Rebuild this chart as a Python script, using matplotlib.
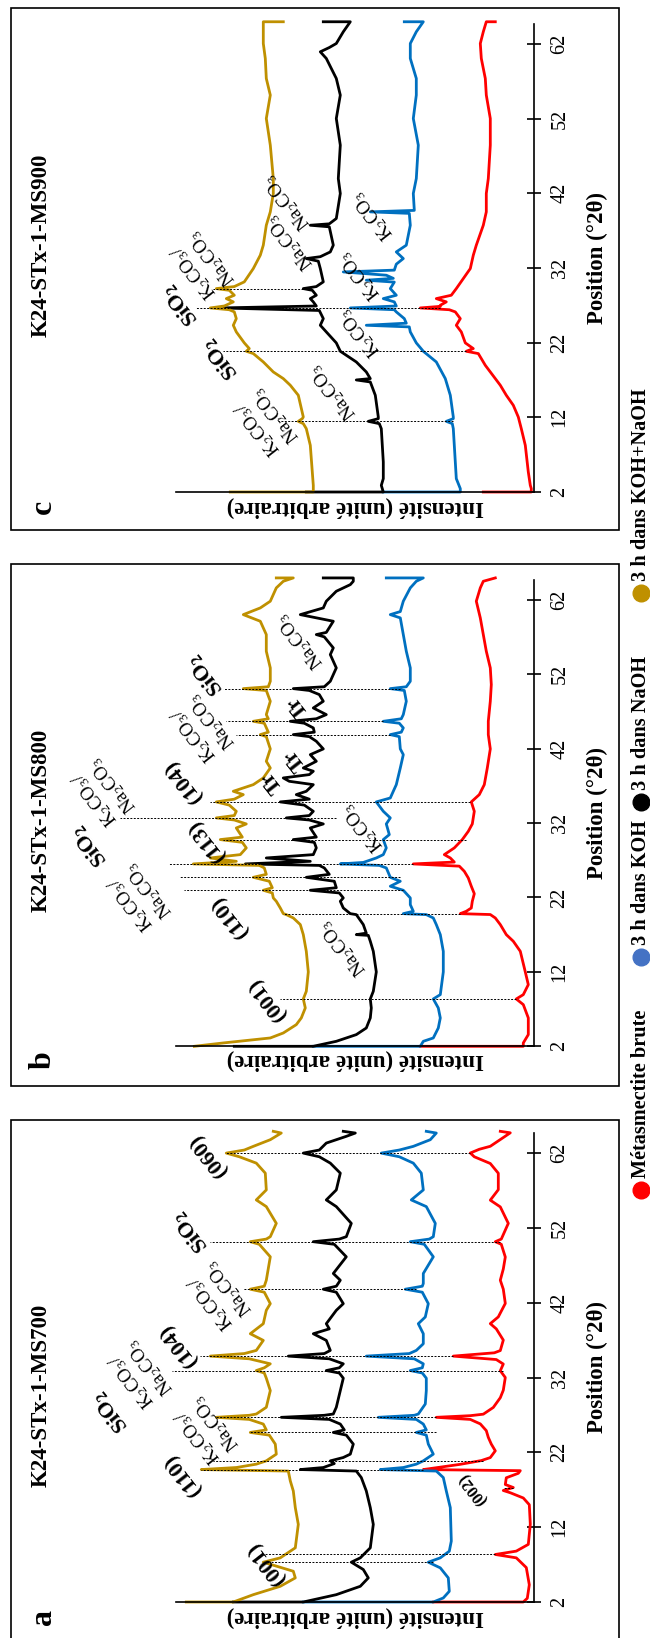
import matplotlib
matplotlib.use('Agg')
import matplotlib.pyplot as plt
from matplotlib.lines import Line2D
from matplotlib.patches import Rectangle

plt.rcParams['font.family'] = ['Liberation Serif', 'DejaVu Serif']
plt.rcParams['mathtext.fontset'] = 'stix'

# series, legend and axis ticks
series_names = ['Métasmectite brute', '3 h dans KOH', '3 h dans NaOH', '3 h dans KOH+NaOH']
curve_colors = ['#FF0000', '#0070C0', '#000000', '#BF9000']
legend_colors = ['#FF0000', '#4472C4', '#000000', '#BF9000']
ticks_2t = [2, 12, 22, 32, 42, 52, 62]

# patterns: (position 2theta, intensity in arbitrary units, offsets included)
# --- a : MS700 ---
a_red = [(2.0, 101), (2.0, 11), (2.5, 7), (4.3, 5), (6.6, 8), (7.9, 18), (8.35, 39), (8.8, 18), (9.7, 6),
         (12.4, 4), (15.0, 5), (15.9, 11), (16.6, 24), (16.9, 31), (17.3, 21), (17.7, 29), (18.6, 28),
         (19.2, 16), (19.55, 14), (19.7, 111), (20.0, 95), (20.4, 74), (20.9, 53), (21.3, 44), (22.2, 39),
         (23.1, 43), (24.0, 46), (24.9, 48), (25.8, 54), (26.4, 64), (26.68, 98), (26.9, 64), (27.1, 51),
         (28.0, 41), (29.3, 34), (30.3, 31), (32.0, 29), (32.9, 34), (33.8, 31), (34.4, 38), (34.86, 81),
         (35.3, 40), (35.6, 34), (37.0, 31), (38.5, 38), (39.2, 44), (40.1, 36), (41.9, 29), (43.8, 31),
         (45.0, 34), (46.5, 31), (48.1, 29), (49.8, 33), (50.15, 39), (50.5, 33), (52.6, 26), (54.8, 34),
         (55.7, 44), (57.1, 36), (59.3, 36), (60.6, 44), (61.5, 60), (62.0, 64), (62.5, 55), (62.9, 44),
         (63.8, 34), (64.7, 24), (64.9, 34)]
a_blue = [(2.0, 231), (2.0, 101), (2.54, 91), (3.43, 85), (5.22, 86), (6.56, 94), (7.32, 106), (7.9, 94),
          (8.79, 85), (10.14, 83), (14.61, 84), (16.84, 88), (18.63, 91), (19.5, 98), (19.7, 154),
          (19.97, 131), (20.42, 118), (20.86, 111), (21.76, 101), (23.1, 106), (24.3, 108), (24.66, 118),
          (25.0, 108), (25.78, 111), (26.4, 118), (26.68, 156), (26.95, 120), (27.12, 116), (28.46, 109),
          (30.25, 108), (31.91, 108), (32.6, 112), (32.93, 124), (33.3, 112), (33.83, 111), (34.5, 120),
          (34.86, 168), (35.2, 125), (35.62, 118), (36.51, 111), (37.85, 111), (39.19, 116), (40.09, 109),
          (41.87, 106), (43.4, 112), (43.8, 129), (44.2, 112), (44.56, 111), (45.9, 111), (48.13, 101),
          (49.8, 110), (50.15, 124), (50.5, 105), (50.82, 101), (52.6, 99), (54.84, 108), (55.73, 123),
          (57.07, 111), (59.31, 113), (60.65, 121), (61.5, 135), (61.99, 153), (62.4, 135), (62.89, 121),
          (63.78, 104), (64.67, 98), (64.9, 108)]
a_black = [(2.0, 301), (2.0, 231), (2.98, 198), (4.10, 174), (5.22, 166), (6.34, 171), (7.32, 183), (7.9, 174),
           (9.24, 164), (12.37, 161), (14.61, 164), (16.84, 168), (18.63, 173), (19.5, 178), (19.7, 234),
           (19.97, 211), (20.5, 200), (20.86, 204), (21.31, 191), (21.76, 184), (23.1, 181), (24.3, 188),
           (24.66, 201), (25.0, 190), (25.78, 194), (26.4, 205), (26.68, 253), (26.95, 210), (27.12, 201),
           (28.02, 198), (30.25, 194), (31.91, 191), (32.6, 195), (32.93, 208), (33.3, 195), (33.83, 191),
           (34.5, 205), (34.86, 246), (35.2, 210), (35.62, 204), (36.96, 208), (37.85, 221), (38.5, 205),
           (39.19, 208), (40.98, 198), (41.87, 191), (43.4, 198), (43.8, 211), (44.2, 198), (45.0, 194),
           (45.9, 201), (48.13, 188), (49.8, 200), (50.15, 221), (50.5, 195), (50.82, 188), (52.6, 183),
           (54.84, 198), (55.73, 208), (57.07, 198), (59.31, 194), (60.65, 204), (61.5, 215), (61.99, 231),
           (62.4, 215), (63.33, 208), (64.23, 188), (64.67, 179), (64.9, 191)]
a_gold = [(2.0, 348), (2.0, 301), (2.98, 281), (4.10, 254), (5.22, 239), (6.11, 241), (7.32, 271), (7.9, 254),
          (9.24, 239), (12.37, 236), (14.61, 239), (16.84, 241), (18.18, 244), (19.5, 246), (19.7, 333),
          (19.97, 298), (20.42, 278), (20.86, 268), (21.76, 258), (23.1, 259), (24.3, 265), (24.66, 284),
          (25.0, 268), (25.78, 271), (26.4, 285), (26.68, 318), (26.95, 285), (27.12, 278), (28.02, 268),
          (30.25, 264), (31.91, 268), (32.6, 270), (32.93, 278), (33.3, 270), (33.83, 264), (34.5, 285),
          (34.86, 324), (35.2, 290), (35.62, 278), (36.96, 271), (37.85, 284), (39.19, 271), (40.98, 268),
          (41.87, 264), (43.4, 270), (43.8, 284), (44.2, 270), (45.0, 268), (48.13, 264), (49.8, 275),
          (50.15, 284), (50.5, 268), (50.82, 264), (52.6, 258), (54.84, 268), (55.73, 278), (57.07, 268),
          (59.31, 269), (60.65, 278), (61.5, 295), (61.99, 308), (62.4, 290), (62.89, 281), (63.78, 264),
          (64.67, 253), (64.9, 261)]

# --- b : MS800 ---
b_red = [(2.0, 114), (2.0, 11), (2.45, 11), (3.57, 6), (5.81, 6), (7.6, 11), (8.36, 18), (8.94, 11),
         (10.28, 6), (11.99, 9), (14.76, 14), (16.11, 21), (17.0, 28), (18.35, 34), (19.24, 39), (19.7, 44),
         (19.82, 74), (20.14, 68), (20.58, 63), (21.48, 62), (22.5, 60), (23.5, 63), (24.61, 66), (25.51, 70),
         (26.2, 75), (26.5, 121), (26.75, 80), (27.3, 84), (27.75, 90), (28.65, 80), (29.77, 72), (30.88, 66),
         (31.87, 62), (33.57, 60), (34.83, 63), (35.81, 55), (37.15, 50), (39.39, 47), (41.95, 44), (43.87, 46),
         (45.66, 46), (48.35, 44), (50.59, 43), (52.83, 44), (55.07, 48), (57.31, 51), (59.55, 54),
         (61.79, 58), (63.58, 54), (64.47, 51), (64.92, 39)]
b_blue = [(2.0, 221), (2.0, 114), (2.67, 111), (3.12, 101), (4.46, 96), (5.81, 94), (7.15, 96), (8.36, 101),
          (8.94, 94), (11.99, 91), (14.76, 91), (17.0, 94), (18.35, 98), (19.24, 101), (19.69, 108),
          (19.82, 131), (20.14, 121), (21.03, 124), (21.93, 124), (22.96, 131), (23.5, 144), (24.17, 134),
          (24.7, 144), (25.96, 148), (26.3, 155), (26.5, 194), (26.7, 171), (27.3, 158), (27.75, 151),
          (28.65, 148), (29.77, 151), (30.44, 145), (31.87, 148), (32.68, 144), (33.57, 151), (34.83, 158),
          (35.36, 144), (36.26, 141), (37.15, 138), (39.39, 134), (41.18, 131), (41.95, 134), (43.6, 135),
          (43.87, 144), (44.2, 133), (44.77, 131), (45.4, 135), (45.66, 151), (46.0, 133), (46.56, 131),
          (48.35, 128), (49.8, 130), (50.05, 144), (50.3, 128), (51.04, 124), (52.83, 124), (55.07, 128),
          (57.31, 131), (59.55, 134), (59.99, 144), (60.4, 134), (61.79, 131), (63.58, 124), (64.47, 118),
          (64.92, 111), (64.92, 148)]
b_black = [(2.0, 300), (2.0, 221), (2.67, 198), (3.57, 178), (4.46, 168), (5.81, 164), (7.15, 163), (8.36, 164),
           (9.39, 161), (11.99, 158), (14.76, 161), (16.11, 164), (16.9, 166), (17.0, 178), (17.2, 168),
           (18.35, 171), (19.69, 178), (19.82, 184), (20.58, 191), (21.48, 194), (21.93, 191), (22.6, 195),
           (22.96, 224), (23.3, 198), (24.17, 200), (24.7, 228), (25.1, 205), (25.96, 210), (26.3, 215),
           (26.5, 289), (26.85, 224), (27.3, 268), (27.75, 221), (28.65, 218), (29.4, 220), (29.77, 241),
           (30.1, 218), (31.33, 224), (31.87, 211), (32.4, 225), (32.68, 248), (33.0, 225), (33.57, 221),
           (34.4, 230), (34.83, 254), (35.2, 225), (35.81, 238), (36.26, 228), (37.15, 221), (37.6, 245),
           (38.05, 251), (38.5, 225), (38.95, 221), (39.39, 231), (40.29, 218), (41.18, 224), (41.95, 211),
           (42.98, 218), (43.6, 225), (43.87, 241), (44.2, 220), (44.77, 221), (45.4, 230), (45.66, 244),
           (46.0, 218), (46.56, 208), (47.45, 221), (48.35, 211), (49.25, 215), (49.8, 225), (50.05, 241),
           (50.3, 210), (51.04, 204), (52.83, 198), (54.62, 204), (55.52, 201), (57.0, 210), (57.31, 218),
           (57.6, 208), (59.1, 201), (59.99, 234), (60.89, 211), (61.79, 208), (63.13, 198), (64.02, 184),
           (64.47, 181), (64.92, 181), (64.92, 211)]
b_gold = [(2.0, 340), (2.45, 311), (3.12, 264), (3.79, 251), (4.91, 238), (5.81, 233), (7.15, 229), (8.36, 231),
          (9.39, 228), (11.99, 226), (14.76, 228), (17.0, 231), (18.35, 234), (19.24, 241), (19.69, 248),
          (19.82, 251), (20.58, 254), (21.48, 258), (21.93, 261), (22.6, 262), (22.96, 271), (23.3, 262),
          (24.17, 265), (24.7, 281), (25.1, 268), (25.96, 270), (26.3, 275), (26.5, 341), (26.85, 298),
          (27.3, 324), (27.75, 294), (28.65, 288), (29.4, 292), (29.77, 314), (30.1, 292), (31.33, 298),
          (31.87, 288), (32.4, 300), (32.68, 318), (33.0, 300), (33.57, 298), (34.4, 305), (34.83, 318),
          (35.2, 300), (35.81, 291), (36.26, 301), (37.15, 281), (38.05, 271), (39.39, 264), (40.29, 268),
          (41.95, 264), (43.6, 268), (43.87, 274), (44.2, 266), (45.4, 270), (45.66, 281), (46.0, 266),
          (46.56, 268), (48.35, 264), (49.8, 268), (50.05, 291), (50.3, 266), (51.04, 264), (52.83, 264),
          (55.07, 268), (57.31, 268), (59.1, 274), (59.99, 291), (60.89, 274), (61.79, 264), (63.58, 258),
          (64.47, 251), (64.92, 241), (64.92, 258)]

# --- c : MS900 ---
c_red = [(2.0, 51), (2.0, 3), (2.45, 3), (2.89, 4), (4.68, 6), (8.25, 9), (10.48, 13), (12.04, 16), (13.61, 21),
         (14.95, 28), (16.29, 34), (17.18, 39), (18.07, 44), (18.96, 49), (19.86, 53), (20.53, 56), (20.84, 68),
         (21.2, 61), (21.96, 69), (23.43, 73), (24.32, 78), (25.21, 74), (26.11, 79), (26.4, 85), (26.64, 114),
         (26.85, 94), (27.0, 94), (27.45, 88), (27.89, 98), (28.34, 83), (29.23, 78), (30.57, 71), (31.91, 64),
         (33.7, 61), (35.04, 58), (37.71, 51), (39.5, 48), (41.96, 48), (43.96, 46), (48.43, 44), (52.0, 44),
         (55.13, 48), (57.36, 49), (60.04, 53), (62.04, 54), (63.61, 51), (64.95, 48), (64.95, 39)]
c_blue = [(2.0, 151), (2.0, 74), (2.45, 74), (3.79, 78), (6.02, 79), (8.25, 80), (10.48, 81), (11.15, 82),
          (11.46, 88), (11.82, 81), (12.04, 81), (14.95, 84), (17.18, 89), (19.41, 98), (20.84, 111),
          (21.96, 118), (23.43, 124), (24.1, 125), (24.32, 168), (24.6, 128), (25.21, 130), (26.11, 138),
          (26.4, 140), (26.64, 184), (26.9, 138), (27.45, 140), (27.89, 151), (28.34, 138), (29.23, 144),
          (30.1, 140), (30.35, 168), (30.6, 141), (31.02, 148), (31.46, 191), (31.7, 140), (32.5, 138),
          (33.25, 131), (34.14, 138), (35.04, 128), (37.71, 124), (39.3, 125), (39.5, 164), (39.7, 120),
          (41.96, 121), (43.96, 118), (48.43, 116), (52.0, 121), (55.13, 118), (57.36, 118), (60.04, 124),
          (62.04, 124), (63.61, 118), (64.95, 111), (64.95, 130)]
c_black = [(2.0, 228), (2.0, 151), (2.89, 153), (3.79, 151), (6.02, 151), (8.25, 152), (10.48, 153), (11.15, 155),
           (11.46, 166), (11.82, 156), (12.04, 156), (14.95, 159), (16.73, 164), (17.0, 178), (17.18, 164),
           (18.07, 168), (19.41, 178), (20.84, 194), (21.96, 198), (23.43, 208), (24.32, 214), (25.21, 211),
           (26.3, 215), (26.64, 314), (26.9, 218), (27.45, 221), (27.89, 224), (28.34, 218), (29.0, 222),
           (29.23, 231), (29.5, 218), (30.13, 211), (31.91, 214), (32.9, 216), (33.25, 228), (33.5, 214),
           (34.14, 204), (35.04, 201), (37.5, 205), (37.71, 224), (37.9, 205), (38.61, 198), (41.96, 194),
           (43.96, 196), (48.43, 194), (52.0, 198), (55.13, 194), (57.36, 198), (60.04, 208), (60.93, 214),
           (61.5, 205), (62.04, 198), (63.61, 191), (64.95, 184), (64.95, 211)]
c_gold = [(2.0, 304), (2.0, 221), (2.89, 221), (4.68, 222), (8.25, 224), (10.48, 228), (11.15, 231), (11.46, 236),
          (11.82, 232), (12.04, 231), (14.95, 236), (16.29, 244), (17.18, 251), (18.07, 261), (19.41, 271),
          (20.53, 281), (20.84, 288), (21.2, 285), (21.96, 290), (23.43, 298), (24.32, 301), (25.21, 298),
          (26.11, 300), (26.4, 305), (26.64, 324), (26.9, 310), (27.45, 301), (27.89, 308), (28.34, 300),
          (29.0, 305), (29.23, 318), (29.5, 300), (30.13, 290), (31.91, 281), (33.7, 274), (35.04, 271),
          (37.71, 268), (39.5, 264), (41.96, 261), (43.96, 261), (48.43, 264), (52.0, 268), (55.13, 264),
          (57.36, 268), (60.04, 269), (62.04, 271), (63.61, 271), (64.95, 271), (64.95, 251)]

# dashed reflection markers: (2theta, intensity from, intensity to)
a_peaks = [(7.3, 101, 264), (8.35, 39, 271), (17.3, 21, 31), (19.7, 111, 333), (20.9, 51, 321),
           (24.7, 98, 284), (26.68, 98, 318), (32.9, 31, 362), (34.86, 81, 334), (43.8, 118, 291),
           (50.15, 34, 324), (62.0, 64, 308)]
b_peaks = [(8.36, 18, 254), (19.82, 74, 251), (22.96, 131, 350), (24.7, 134, 355), (26.5, 121, 365),
           (29.77, 68, 311), (32.68, 198, 414), (34.83, 64, 324), (43.87, 144, 298), (45.66, 151, 308),
           (50.05, 134, 311)]
c_peaks = [(11.46, 81, 256), (20.84, 68, 311), (26.64, 94, 338), (29.23, 231, 321)]

K = r'K$_\mathregular{2}$CO$_\mathregular{3}$'
N = r'Na$_\mathregular{2}$CO$_\mathregular{3}$'
S = r'SiO$_\mathregular{2}$'
KN = K + '/\n' + N

# phase labels: text, 2theta, intensity, size, weight
a_labels = [('(001)', 7.2, 268, 16, 'bold'), ('(002)', 17.2, 61, 12, 'bold'), ('(110)', 19.0, 351, 16, 'bold'),
            (KN, 25.0, 327, 13.5, 'normal'), (S, 27.4, 424, 16, 'bold'), (KN, 32.5, 393, 13.5, 'normal'),
            ('(104)', 36.3, 356, 16, 'bold'), (KN, 43.0, 314, 13.5, 'normal'), (S, 51.4, 344, 16, 'bold'),
            ('(060)', 61.7, 326, 16, 'bold')]
b_labels = [('(001)', 8.4, 267, 16, 'bold'), ('(110)', 19.5, 304, 16, 'bold'), (N, 15.2, 191, 13.5, 'normal'),
            (KN, 22.1, 394, 13.5, 'normal'), (S, 28.9, 445, 16, 'bold'), ('(113)', 29.7, 327, 16, 'bold'),
            (K, 31.4, 171, 13.5, 'normal'), (KN, 36.2, 430, 13.5, 'normal'), ('(104)', 37.6, 351, 16, 'bold'),
            ('Tr', 37.6, 262, 15, 'bold'), ('Tr', 40.5, 239, 15, 'bold'), (KN, 44.8, 331, 13.5, 'normal'),
            ('Tr', 47.7, 236, 15, 'bold'), (S, 51.9, 329, 16, 'bold'), (N, 56.5, 234, 13.5, 'normal')]
c_labels = [(KN, 11.4, 267, 13.5, 'normal'), (N, 15.4, 201, 13.5, 'normal'), (S, 19.8, 314, 16, 'bold'),
            (K, 23.4, 174, 13.5, 'normal'), (S, 27.0, 354, 16, 'bold'), (K, 31.0, 174, 13.5, 'normal'),
            (KN, 32.4, 331, 13.5, 'normal'), (N, 35.5, 244, 13.5, 'normal'), (K, 39.1, 161, 13.5, 'normal'),
            (N, 40.8, 247, 13.5, 'normal')]

W, H = 650.0, 1638.0
fig = plt.figure(figsize=(6.5, 16.38), dpi=100)

# letter, title, curves, peaks, labels, frame top, axis bottom px, px per degree, title y, letter y
panels = [
    ('a', 'K24-STx-1-MS700', [a_red, a_blue, a_black, a_gold], a_peaks, a_labels, 1120, 1602, 7.483, 1395, 1617),
    ('b', 'K24-STx-1-MS800', [b_red, b_blue, b_black, b_gold], b_peaks, b_labels, 564, 1046.3, 7.444, 820, 1060),
    ('c', 'K24-STx-1-MS900', [c_red, c_blue, c_black, c_gold], c_peaks, c_labels, 8, 492, 7.47, 245, 507),
]

for letter, title, curves, peaks, labels, ftop, ybot, ppd, ytitle, ylet in panels:
    fig.add_artist(Rectangle((11 / W, 1 - (ftop + 522) / H), 608 / W, 522 / H, transform=fig.transFigure,
                             fill=False, lw=1.2, ec='black'))
    h = 62.7 * ppd
    ax = fig.add_axes([176 / W, 1 - ybot / H, (534.3 - 176) / W, h / H])
    ax.set_xlim(358.3, 0)
    ax.set_ylim(2, 64.7)
    for pts, col in zip(curves, curve_colors):
        tt = [p[0] for p in pts]
        ii = [p[1] for p in pts]
        ax.plot(ii, tt, color=col, lw=2.0, clip_on=False, solid_joinstyle='round')
    for t, lo, hi in peaks:
        ax.plot([lo, hi], [t, t], color='black', lw=0.7, ls=(0, (2, 1.5)), zorder=5, clip_on=False)
    for s, t, i, size, wt in labels:
        ax.text(i, t, s, fontsize=size, fontweight=wt, rotation=128, rotation_mode='anchor',
                ha='center', va='center', multialignment='center')
    ax.spines['left'].set_visible(False)
    ax.spines['top'].set_visible(False)
    ax.spines['bottom'].set_linewidth(1.2)
    ax.spines['right'].set_linewidth(1.2)
    ax.set_xticks([])
    ax.yaxis.tick_right()
    ax.set_yticks(ticks_2t)
    ax.set_yticklabels([str(t) for t in ticks_2t], rotation=90, va='center')
    ax.tick_params(axis='y', direction='inout', length=9.5, width=1.2, labelsize=14.5, pad=7)
    ax.patch.set_alpha(0)

    fig.text(597 / W, 1 - (ybot - h / 2) / H, 'Position (°2θ)', rotation=90, ha='center', va='center',
             fontsize=16.5, fontweight='bold')
    fig.text(355 / W, 1 - ylet / H, 'Intensité (unité arbitraire)', rotation=180, ha='center', va='center',
             fontsize=16.5, fontweight='bold')
    fig.text(41 / W, 1 - ytitle / H, title, rotation=90, ha='center', va='center', fontsize=16.5,
             fontweight='bold')
    fig.text(43 / W, 1 - ylet / H, letter, rotation=90, ha='center', va='center', fontsize=23,
             fontweight='bold')

# legend, written along the right edge
marker_y = [1190, 957, 802, 593]
for name, col, ym in zip(series_names, legend_colors, marker_y):
    fig.add_artist(Line2D([641 / W], [1 - ym / H], marker='o', ms=12, color=col, ls='none',
                          transform=fig.transFigure))
    fig.text(641 / W, 1 - (ym - 12) / H, name, rotation=90, ha='center', va='bottom', fontsize=14.6,
             fontweight='bold')

fig.savefig('out.png', dpi=100)
